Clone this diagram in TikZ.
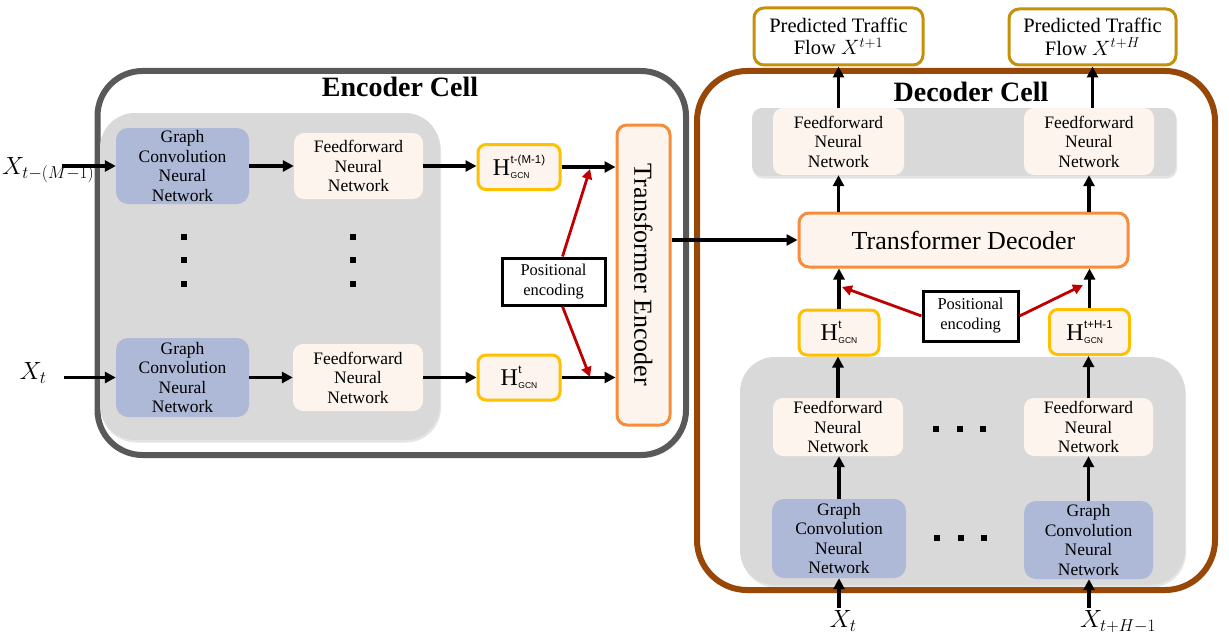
\documentclass[tikz,border=0pt]{standalone}
\usepackage{fontspec}
\setmainfont{Liberation Serif}
\setsansfont{Liberation Sans}
\usetikzlibrary{arrows.meta,shadows,calc}
\definecolor{gcnblue}{RGB}{174,185,216}
\definecolor{ffncream}{RGB}{253,245,237}
\definecolor{panelgray}{RGB}{217,217,217}
\definecolor{encline}{RGB}{89,89,89}
\definecolor{decline}{RGB}{152,72,6}
\definecolor{hgold}{RGB}{255,192,0}
\definecolor{trorange}{RGB}{247,140,60}
\definecolor{predgold}{RGB}{196,145,8}
\definecolor{pered}{RGB}{192,0,0}
\newcommand\hgcn[1]{%
 {\fontsize{24}{24}\selectfont H}\hspace{0.5pt}%
 \setbox0=\hbox{\sffamily\fontsize{11.5}{11.5}\selectfont #1}%
 \setbox2=\hbox{\sffamily\fontsize{8.5}{8.5}\selectfont GCN}%
 \ifdim\wd0>\wd2 \dimen0=\wd0 \else \dimen0=\wd2 \fi
 \rlap{\raise11.5pt\box0}\rlap{\lower3pt\box2}\hspace{\dimen0}}
\tikzset{
  bx/.style 2 args={rectangle, inner sep=0pt, align=center, minimum width=#1, minimum height=#2},
  cell/.style={line width=6pt, rounded corners=45pt, fill=white,
     drop shadow={shadow xshift=2pt, shadow yshift=-3pt, opacity=0.25}},
  panel/.style={fill=panelgray, rounded corners=35pt,
     drop shadow={shadow xshift=1pt, shadow yshift=-2.5pt, opacity=0.2}},
  gcnbox/.style={fill=gcnblue, rounded corners=12pt, font=\fontsize{17.5}{19.5}\selectfont},
  ffnbox/.style={fill=ffncream, rounded corners=10pt, font=\fontsize{17.5}{19.5}\selectfont},
  hgbox/.style={draw=hgold, line width=3pt, fill=ffncream, rounded corners=8pt},
  trbox/.style={draw=trorange, line width=3pt, fill=ffncream, rounded corners=10pt},
  pebox/.style={draw=black, line width=3pt, fill=white, font=\fontsize{16.5}{20}\selectfont},
  predbox/.style={draw=predgold, line width=3pt, fill=white, rounded corners=10pt, font=\fontsize{20.5}{22.5}\selectfont},
  title/.style={font=\bfseries\fontsize{28}{32}\selectfont},
  xlab/.style={font=\fontsize{24}{28}\selectfont, inner sep=0pt},
  dotsq/.style={rectangle, fill=black, minimum size=5.5pt, inner sep=0pt},
  arr/.style={line width=3.5pt, -{Triangle[length=11pt,width=11pt]}},
  redarr/.style={draw=pered, line width=2.8pt, -{Triangle[length=10pt,width=10pt]}}
}
\begin{document}
\begin{tikzpicture}[x=1pt,y=-1pt]
\useasboundingbox (0,0) rectangle (1229,642);
% ---------------- Encoder ----------------
\node[bx={588.5pt}{384pt}, cell, draw=encline] (enc) at (391.75,263) {};
\node[title] (enctitle) at (400,87) {Encoder Cell};
\node[bx={340pt}{327pt}, panel] (encpanel) at (270,276.5) {};
\node[bx={133pt}{76pt}, gcnbox] (gcn1) at (182.5,166) {Graph\\Convolution\\Neural\\Network};
\node[bx={133pt}{79pt}, gcnbox] (gcn2) at (182.5,377.5) {Graph\\Convolution\\Neural\\Network};
\node[bx={129pt}{66pt}, ffnbox] (ffn1) at (358.5,166) {Feedforward\\Neural\\Network};
\node[bx={130pt}{67pt}, ffnbox] (ffn2) at (358,377.5) {Feedforward\\Neural\\Network};
\node[dotsq] (ea1) at (184,237) {};
\node[dotsq] (ea2) at (184,260) {};
\node[dotsq] (ea3) at (184,284) {};
\node[dotsq] (eb1) at (353,237) {};
\node[dotsq] (eb2) at (353,260) {};
\node[dotsq] (eb3) at (353,284) {};
\node[bx={82pt}{45pt}, hgbox] (h1) at (519,167) {\hgcn{t-(M-1)}};
\node[bx={82pt}{45pt}, hgbox] (h2) at (519,377.5) {\hgcn{t}};
\node[bx={53pt}{300pt}, trbox] (te) at (643.5,275) {};
\node[rotate=-90, font=\fontsize{26}{30}\selectfont] (telabel) at (te.center) {Transformer Encoder};
\node[bx={103pt}{47pt}, pebox] (pe1) at (553.5,281.5) {Positional\\encoding};
% inputs
\node[xlab, anchor=west] (xm) at (2,170) {$X_{t-(M-1)}$};
\node[xlab] (xt) at (33,373) {$X_t$};
\coordinate (xms) at (62,166);
\coordinate (xts) at (64,377.5);
\draw[arr] (xms) -- (gcn1.west);
\draw[arr] (xts) -- (gcn2.west);
\draw[arr] (gcn1.east) -- (ffn1.west);
\draw[arr] (gcn2.east) -- (ffn2.west);
\draw[arr] (ffn1.east) -- (ffn1.east -| h1.west);
\draw[arr] (ffn2.east) -- (ffn2.east -| h2.west);
\draw[arr] (h1.east) -- (te.west |- h1.east);
\draw[arr] (h2.east) -- (te.west |- h2.east);
\coordinate (pt1) at (590,169);
\coordinate (pt2) at (590,377);
\draw[redarr] ($(pe1.north)+(9,0)$) -- (pt1);
\draw[redarr] ($(pe1.south)+(9,0)$) -- (pt2);
% ---------------- Decoder ----------------
\node[bx={518pt}{519pt}, cell, draw=decline, rounded corners=50pt] (dec) at (956,330.5) {};
\node[title] (dectitle) at (971,92) {Decoder Cell};
\node[bx={424pt}{68pt}, panel, rounded corners=10pt] (dpanel1) at (964,142) {};
\node[bx={131pt}{67pt}, ffnbox] (dffn1) at (838.5,141.5) {Feedforward\\Neural\\Network};
\node[bx={130pt}{67pt}, ffnbox] (dffn2) at (1089,141.5) {Feedforward\\Neural\\Network};
\node[bx={169pt}{57pt}, predbox] (pred1) at (838.5,36.5) {Predicted Traffic\\Flow $X^{t+1}$};
\node[bx={167pt}{56pt}, predbox] (pred2) at (1092.5,37) {Predicted Traffic\\Flow $X^{t+H}$};
\node[bx={329pt}{54pt}, trbox, font=\fontsize{26}{30}\selectfont] (td) at (963.5,240) {Transformer Decoder};
\node[bx={445pt}{228pt}, panel] (dpanel2) at (962.5,471) {};
\node[bx={80pt}{45pt}, hgbox] (dh1) at (839,332.5) {\hgcn{t}};
\node[bx={80pt}{45pt}, hgbox] (dh2) at (1089.5,332) {\hgcn{t+H-1}};
\node[bx={95pt}{50pt}, pebox] (pe2) at (970.5,316) {Positional\\encoding};
\node[bx={130pt}{58pt}, ffnbox] (dffn3) at (838,427) {Feedforward\\Neural\\Network};
\node[bx={129pt}{58pt}, ffnbox] (dffn4) at (1088.5,427) {Feedforward\\Neural\\Network};
\node[bx={134pt}{79pt}, gcnbox] (dgcn1) at (839,538.5) {Graph\\Convolution\\Neural\\Network};
\node[bx={129pt}{78pt}, gcnbox] (dgcn2) at (1088.5,540) {Graph\\Convolution\\Neural\\Network};
\node[dotsq] (da1) at (936,429) {};
\node[dotsq] (da2) at (960,429) {};
\node[dotsq] (da3) at (983,429) {};
\node[dotsq] (db1) at (937,538) {};
\node[dotsq] (db2) at (961,538) {};
\node[dotsq] (db3) at (984,538) {};
\node[xlab] (xt2) at (843,621) {$X_t$};
\node[xlab] (xth) at (1118,622) {$X_{t+H-1}$};
\coordinate (xt2s) at (839,608);
\coordinate (xths) at (1089,608);
\draw[arr] (xt2s) -- (dgcn1.south);
\draw[arr] (xths) -- (xths |- dgcn2.south);
\draw[arr] (dgcn1.north) -- (dgcn1.north |- dffn3.south);
\draw[arr] (dgcn2.north) -- (dgcn2.north |- dffn4.south);
\draw[arr] (dffn3.north) -- (dffn3.north |- dh1.south);
\draw[arr] (dffn4.north) -- (dffn4.north |- dh2.south);
\draw[arr] (dh1.north) -- (dh1.north |- td.south);
\draw[arr] (dh2.north) -- (dh2.north |- td.south);
\draw[arr] (td.north -| dffn1.south) -- (dffn1.south);
\draw[arr] (td.north -| dffn2.south) -- (dffn2.south);
\draw[arr] (dffn1.north) -- (pred1.south);
\draw[arr] (dffn2.north -| pred2.south) -- (pred2.south);
\coordinate (pt3) at (842,287);
\coordinate (pt4) at (1083,285);
\draw[redarr] (pe2.west) -- (pt3);
\draw[redarr] (pe2.east) -- (pt4);
% encoder to decoder
\draw[arr] (te.east |- td.west) -- (td.west);
\end{tikzpicture}
\end{document}
